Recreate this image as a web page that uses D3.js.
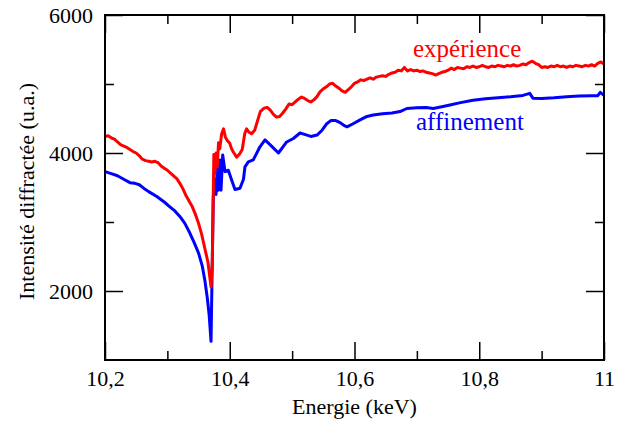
<!DOCTYPE html>
<html>
<head>
<meta charset="utf-8">
<script src="https://cdn.jsdelivr.net/npm/d3@7"></script>
<style>
  body { margin: 0; background: #fff; }
</style>
</head>
<body>
<div id="chart"></div>
<script>
// intensity vs energy near the edge
const xTicks = [10.2, 10.4, 10.6, 10.8, 11.0];
const xTickLabels = ["10,2", "10,4", "10,6", "10,8", "11"];
const xMinor = [10.3, 10.5, 10.7, 10.9];
const yTicks = [2000, 4000, 6000];
const yMinor = [3000, 5000];

const expE = [10.200,10.205,10.210,10.215,10.220,10.225,10.230,10.235,10.240,10.245,10.250,10.255,10.260,10.265,10.270,10.275,10.280,10.285,10.290,10.295,10.300,10.305,10.310,10.315,10.320,10.325,10.330,10.335,10.340,10.345,10.350,10.355,10.360,10.365,10.370,
  10.372,10.3745,10.376,10.378,10.380,10.382,10.384,10.387,10.390,10.393,10.396,10.400,10.403,10.406,10.411,10.416,10.420,10.424,10.427,10.431,10.435,10.440,10.445,10.449,10.455,10.460,10.465,10.470,10.475,10.480,10.485,10.490,10.495,10.500,10.505,10.510,10.515,10.520,10.525,10.530,10.535,10.540,10.545,10.550,10.555,
  10.560,10.565,10.570,10.575,10.580,10.585,10.590,10.595,10.600,10.605,10.610,10.615,10.620,10.625,10.630,10.635,10.640,10.645,10.650,10.655,10.660,10.665,10.670,10.675,10.680,10.685,10.690,10.695,10.700,10.705,10.710,10.715,10.720,10.725,10.730,10.735,10.740,10.745,10.750,10.755,10.760,10.765,10.770,10.775,10.780,
  10.785,10.790,10.795,10.800,10.805,10.810,10.815,10.820,10.825,10.830,10.835,10.840,10.845,10.850,10.855,10.860,10.865,10.870,10.875,10.880,10.885,10.890,10.895,10.900,10.905,10.910,10.915,10.920,10.925,10.930,10.935,10.940,10.945,10.950,10.955,10.960,10.965,10.970,10.975,10.980,10.985,10.990,10.995,11.000];
const expI = [4240,4250,4220,4200,4160,4120,4100,4080,4050,4020,4000,3960,3910,3890,3880,3870,3880,3860,3810,3780,3750,3710,3670,3630,3560,3480,3380,3300,3220,3110,2980,2820,2620,2420,2060,
  2400,3980,3700,4000,3800,4150,4060,4280,4350,4230,4180,4140,4060,4010,3940,3990,4050,4280,4350,4300,4280,4330,4480,4600,4650,4660,4620,4560,4520,4530,4580,4640,4710,4700,4740,4780,4810,4790,4760,4740,4770,4820,4890,4930,4960,
  5000,5010,4970,4940,4900,4880,4920,4960,5010,5030,5060,5050,5070,5090,5070,5100,5110,5120,5110,5140,5160,5170,5200,5190,5240,5190,5210,5190,5200,5180,5190,5170,5160,5150,5130,5150,5170,5180,5200,5230,5210,5240,5230,5220,5250,
  5240,5260,5240,5250,5270,5250,5240,5260,5250,5270,5260,5250,5270,5260,5280,5260,5270,5290,5280,5310,5330,5300,5280,5240,5250,5240,5260,5250,5270,5250,5260,5240,5260,5250,5270,5260,5250,5270,5260,5280,5260,5300,5320,5290];

const fitE = [10.200,10.210,10.220,10.230,10.240,10.248,10.255,10.262,10.270,10.283,10.295,10.304,10.312,10.320,10.328,10.336,10.343,10.350,10.356,10.360,10.364,10.367,10.370,
  10.3736,10.3764,10.378,10.380,10.3817,10.3844,10.386,10.3887,10.3924,10.3977,10.403,10.4084,10.4164,10.422,10.4244,10.4297,10.4377,10.4484,10.4565,10.467,10.478,10.4913,10.502,10.5126,10.520,10.530,10.540,10.548,10.555,10.562,10.570,10.577,10.583,
  10.588,10.597,10.609,10.620,10.630,10.645,10.660,10.673,10.684,10.700,10.715,10.726,10.740,10.753,10.770,10.790,10.810,10.830,10.850,10.870,10.881,10.886,10.900,10.920,10.940,10.960,10.980,10.990,10.994,11.000];
const fitI = [3730,3700,3670,3620,3570,3560,3540,3490,3440,3370,3290,3220,3160,3080,2980,2840,2700,2550,2360,2160,1900,1650,1270,
  3370,3610,3400,3800,3460,3900,3460,3970,3730,3750,3610,3470,3490,3620,3800,3870,3900,4090,4190,4100,4000,4160,4210,4290,4270,4240,4260,4330,4420,4470,4470,4440,4400,
  4380,4420,4480,4530,4550,4570,4580,4600,4645,4655,4660,4645,4670,4695,4730,4765,4785,4800,4815,4835,4865,4795,4790,4800,4815,4825,4830,4830,4880,4835];

const width = 619, height = 429;
const margin = {left: 105, right: 15, top: 15, bottom: 69};
const serif = "'Liberation Serif', 'Times New Roman', serif";

const svg = d3.select("#chart").append("svg")
    .attr("width", width)
    .attr("height", height);

const x = d3.scaleLinear().domain([10.2, 11]).range([margin.left, width - margin.right]);
const y = d3.scaleLinear().domain([1000, 6000]).range([height - margin.bottom, margin.top]);

const line = d3.line().x(d => x(d[0])).y(d => y(d[1]));

svg.append("path")
    .datum(d3.zip(fitE, fitI))
    .attr("d", line)
    .attr("fill", "none")
    .attr("stroke", "#0000ff")
    .attr("stroke-width", 3)
    .attr("stroke-linejoin", "round");

svg.append("path")
    .datum(d3.zip(expE, expI))
    .attr("d", line)
    .attr("fill", "none")
    .attr("stroke", "#ff0000")
    .attr("stroke-width", 3)
    .attr("stroke-linejoin", "round");

// axes - ticks pointing inward on all four sides
const fmtX = d => xTickLabels[xTicks.indexOf(d)];
const axBottom = svg.append("g").attr("transform", `translate(0,${y(1000)})`)
    .call(d3.axisBottom(x).tickValues(xTicks).tickSize(-18).tickPadding(10).tickFormat(fmtX));
axBottom.append("g").call(d3.axisBottom(x).tickValues(xMinor).tickSize(-9).tickFormat(""));
const axTop = svg.append("g").attr("transform", `translate(0,${y(6000)})`)
    .call(d3.axisTop(x).tickValues(xTicks).tickSize(-18).tickFormat(""));
axTop.append("g").call(d3.axisTop(x).tickValues(xMinor).tickSize(-9).tickFormat(""));

const axLeft = svg.append("g").attr("transform", `translate(${x(10.2)},0)`)
    .call(d3.axisLeft(y).tickValues(yTicks).tickSize(-18).tickPadding(12).tickFormat(d3.format("d")));
axLeft.append("g").call(d3.axisLeft(y).tickValues(yMinor).tickSize(-9).tickFormat(""));
const axRight = svg.append("g").attr("transform", `translate(${x(11)},0)`)
    .call(d3.axisRight(y).tickValues(yTicks).tickSize(-18).tickFormat(""));
axRight.append("g").call(d3.axisRight(y).tickValues(yMinor).tickSize(-9).tickFormat(""));

svg.selectAll(".domain").remove();
svg.selectAll(".tick line").attr("stroke", "#000").attr("stroke-width", 1.5);
svg.selectAll(".tick text")
    .style("font-family", serif)
    .style("font-size", "22px")
    .attr("fill", "#000");

svg.append("rect")
    .attr("x", x(10.2))
    .attr("y", y(6000))
    .attr("width", x(11) - x(10.2))
    .attr("height", y(1000) - y(6000))
    .attr("fill", "none")
    .attr("stroke", "#000")
    .attr("stroke-width", 2);

// axis titles
svg.append("text")
    .attr("x", (x(10.2) + x(11)) / 2)
    .attr("y", 414)
    .attr("text-anchor", "middle")
    .style("font-family", serif)
    .style("font-size", "22px")
    .text("Energie (keV)");

svg.append("text")
    .attr("transform", `translate(34,${(y(1000) + y(6000)) / 2 + 4}) rotate(-90)`)
    .attr("text-anchor", "middle")
    .style("font-family", serif)
    .style("font-size", "22px")
    .text("Intensité diffractée (u.a.)");

// series labels
svg.append("text")
    .attr("x", 413)
    .attr("y", 57)
    .style("font-family", serif)
    .style("font-size", "25px")
    .attr("fill", "#ff0000")
    .text("expérience");

svg.append("text")
    .attr("x", 416)
    .attr("y", 130)
    .style("font-family", serif)
    .style("font-size", "25px")
    .attr("fill", "#0000ff")
    .text("affinement");
</script>
</body>
</html>
